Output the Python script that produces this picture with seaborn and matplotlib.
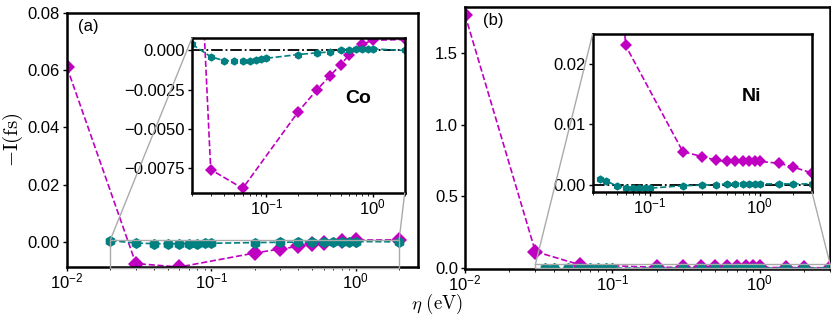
import numpy as np
import pandas as pd
import matplotlib
matplotlib.use('Agg')
import matplotlib.pyplot as plt
from matplotlib.patches import ConnectionPatch
import seaborn as sns

# Co data
co_sz_eta = [0.01, 0.03, 0.06, 0.2, 0.3, 0.4, 0.5, 0.6, 0.8, 1.0, 2.0]
co_sz_val = [0.061, -0.0076, -0.0088, -0.0039, -0.0025, -0.0016, -0.0009, -0.0003, 0.0004, 0.00065, 0.0007]
co_lz_eta = [0.02, 0.03, 0.04, 0.05, 0.06, 0.07, 0.08, 0.09, 0.1, 0.2, 0.3, 0.4, 0.5, 0.6, 0.7, 0.8, 0.9, 1.0, 2.0]
co_lz_val = [0.0004, -0.0004, -0.00065, -0.0007, -0.0007, -0.00065, -0.0006, -0.00055, -0.0005, -0.00026,
             -0.00015, -0.0001, 0.0, 0.00005, 0.0001, 0.0001, 0.0001, 0.0001, 0.0]

# Ni data
ni_sz_eta = [0.01, 0.03, 0.06, 0.2, 0.3, 0.4, 0.5, 0.6, 0.7, 0.8, 0.9, 1.0, 1.5, 2.0, 3.0]
ni_sz_val = [1.765, 0.115, 0.023, 0.0055, 0.0047, 0.0041, 0.0039, 0.0039, 0.0039, 0.0039, 0.0039, 0.0039,
             0.0036, 0.003, 0.002]
ni_lz_eta = [0.035, 0.04, 0.05, 0.06, 0.07, 0.08, 0.09, 0.1, 0.2, 0.3, 0.4, 0.5, 0.6, 0.7, 0.8, 0.9, 1.0,
             1.5, 2.0, 3.0]
ni_lz_val = [0.00095, 0.0007, -0.00016, -0.0004, -0.0005, -0.0005, -0.0005, -0.0005, -0.0001, 0.0, 0.0001,
             0.0002, 0.0002, 0.0002, 0.0002, 0.0002, 0.0002, 0.0002, 0.0002, 0.0002]

MAG = '#c000c0'
TEAL = '#008080'

sns.set_style('ticks')
plt.rcParams['font.family'] = ['Liberation Sans', 'DejaVu Sans']
for k in ['axes.edgecolor', 'xtick.color', 'ytick.color', 'text.color', 'axes.labelcolor']:
    plt.rcParams[k] = 'black'
plt.rcParams['axes.linewidth'] = 1.8
plt.rcParams['xtick.major.size'] = 3
plt.rcParams['ytick.major.size'] = 3
plt.rcParams['xtick.minor.size'] = 2
plt.rcParams['ytick.minor.size'] = 2

fig = plt.figure(figsize=(8.31, 3.16), dpi=100)
ax_a = fig.add_axes([0.0806, 0.155, 0.4224, 0.804])
ax_b = fig.add_axes([0.5596, 0.149, 0.4394, 0.829])
ins_a = fig.add_axes([0.231, 0.389, 0.256, 0.491])
ins_b = fig.add_axes([0.713, 0.393, 0.264, 0.498])


def draw(ax, sx, sy, lx, ly, ms_d, ms_h):
    sns.lineplot(x=sx, y=sy, ax=ax, color=MAG, marker='D', markersize=ms_d,
                 markeredgewidth=0, linestyle='--', linewidth=1.2)
    sns.lineplot(x=lx, y=ly, ax=ax, color=TEAL, marker='h', markersize=ms_h,
                 markeredgewidth=0, linestyle='--', linewidth=1.2)
    ax.set_xscale('log')


def zoom_box(ax, ins, corners):
    x0, x1 = ins.get_xlim()
    y0, y1 = ins.get_ylim()
    ax.indicate_inset([x0, y0, x1 - x0, y1 - y0], edgecolor='#aaaaaa', alpha=1, linewidth=1.0)
    for (xa, ya), (xb, yb) in corners:
        cp = ConnectionPatch(xyA=(xa, ya), coordsA=ax.transData, xyB=(xb, yb), coordsB=ins.transAxes,
                             color='#aaaaaa', linewidth=1.0)
        fig.add_artist(cp)


draw(ax_a, co_sz_eta, co_sz_val, co_lz_eta, co_lz_val, 8, 8)
ax_a.set_xlim(0.01, 2.7)
ax_a.set_ylim(-0.0088, 0.08)
ax_a.set_yticks([0.0, 0.02, 0.04, 0.06, 0.08])
ax_a.set_yticklabels(['0.00', '0.02', '0.04', '0.06', '0.08'])

draw(ins_a, co_sz_eta, co_sz_val, co_lz_eta, co_lz_val, 6, 6)
ins_a.axhline(0, color='black', linestyle='-.', linewidth=1.3, zorder=0)
ins_a.set_xlim(0.02, 2.0)
ins_a.set_ylim(-0.0091, 0.0008)
ins_a.set_yticks([-0.0075, -0.005, -0.0025, 0.0])
ins_a.set_yticklabels(['\u22120.0075', '\u22120.0050', '\u22120.0025', '0.000'])
ins_a.text(0.72, 0.58, 'Co', transform=ins_a.transAxes, fontsize=14, fontweight='bold')

draw(ax_b, ni_sz_eta, ni_sz_val, ni_lz_eta, ni_lz_val, 8, 8)
ax_b.set_xlim(0.01, 3.0)
ax_b.set_ylim(-0.006, 1.82)
ax_b.set_yticks([0.0, 0.5, 1.0, 1.5])

draw(ins_b, ni_sz_eta, ni_sz_val, ni_lz_eta, ni_lz_val, 6, 6)
ins_b.axhline(0, color='black', linestyle='-.', linewidth=1.3, zorder=0)
ins_b.set_xlim(0.03, 3.0)
ins_b.set_ylim(-0.0011, 0.0248)
ins_b.set_yticks([0.0, 0.01, 0.02])
ins_b.set_yticklabels(['0.00', '0.01', '0.02'])
ins_b.text(0.68, 0.58, 'Ni', transform=ins_b.transAxes, fontsize=14, fontweight='bold')

for ax in [ax_a, ax_b, ins_a, ins_b]:
    ax.tick_params(labelsize=12, width=1, pad=2)
    ax.tick_params(axis='x', pad=0.5)
    ax.set_xlabel('')
    ax.set_ylabel('')
    for s in ax.spines.values():
        s.set_visible(True)
        s.set_linewidth(1.8)

# rectangle + connectors: rect top-left -> inset top-left, rect top-right -> inset bottom-right
zoom_box(ax_a, ins_a, [((0.02, 0.0008), (0, 1)), ((2.0, 0.0008), (1, 0))])
zoom_box(ax_b, ins_b, [((0.03, 0.0248), (0, 1)), ((3.0, 0.0248), (1, 0))])

ax_a.text(0.03, 0.93, '(a)', transform=ax_a.transAxes, fontsize=12)
ax_b.text(0.05, 0.93, '(b)', transform=ax_b.transAxes, fontsize=12)

ax_a.set_ylabel(r'$-\mathrm{I}(\mathrm{fs})$', fontsize=15, math_fontfamily='cm', labelpad=2)
fig.text(0.526, 0.0, r'$\eta\ \mathrm{(eV)}$', fontsize=13.5, math_fontfamily='cm', ha='center', va='bottom')

fig.savefig('out.png', dpi=100)
